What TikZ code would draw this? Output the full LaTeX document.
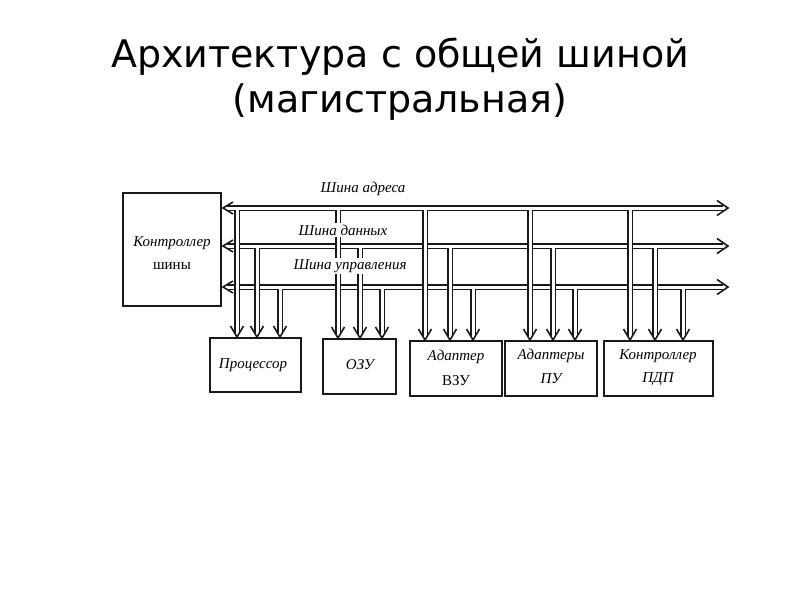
\documentclass[tikz,border=0pt]{standalone}
\usepackage{fontspec}
\setmainfont{Liberation Serif}
\newfontfamily\titlefont{DejaVu Sans}
\usetikzlibrary{calc}
\begin{document}
\begin{tikzpicture}[x=1pt,y=-1pt,
  ink/.style={draw=black!90},
  bus/.style={ink, double=white, double distance=3pt, line width=1.6pt},
  vee/.style={ink, line width=1.6pt, line join=miter, line cap=butt},
  unit/.style={ink, line width=1.7pt, inner sep=0pt},
  lbl/.style={font=\fontsize{15}{17}\selectfont\itshape, inner sep=0pt},
  up/.style={font=\fontsize{15}{17}\selectfont},
  buslbl/.style={lbl, fill=white, inner sep=1.5pt},
  ttl/.style={font=\titlefont\fontsize{38}{44}\selectfont, inner sep=0pt, anchor=base}]
\useasboundingbox (0,0) rectangle (800,600);
\fill[white] (0,0) rectangle (800,600);

% title
\node[ttl] (t1) at (400,67) {Архитектура с общей шиной};
\node[ttl] (t2) at (400,112) {(магистральная)};

% bus controller
\draw[unit] (123,193) rectangle (221,306);
\node[lbl] (ctl) at (172,243) {Контроллер};
\node[up, inner sep=0pt] (ctl2) at (172,266) {шины};

% units
\draw[unit] (210,338) rectangle (301,392);
\draw[unit] (323,339) rectangle (396,394);
\draw[unit] (410,341) rectangle (502,396);
\draw[unit] (505,341) rectangle (597,396);
\draw[unit] (604,341) rectangle (713,396);
\coordinate (procN) at (0,337);
\coordinate (ramN) at (0,338);
\coordinate (vzuN) at (0,340);
\coordinate (puN) at (0,340);
\coordinate (pdpN) at (0,340);

\node[lbl] (proc) at (253,365) {Процессор};
\node[lbl] (ram) at (360,365) {ОЗУ};
\node[lbl] (vzu1) at (456,357) {Адаптер};
\node[up, inner sep=0pt] (vzu2) at (456,381) {ВЗУ};
\node[lbl] (pu1) at (551,356) {Адаптеры};
\node[lbl] (pu2) at (551,379) {ПУ};
\node[lbl] (pdp1) at (658,356) {Контроллер};
\node[lbl] (pdp2) at (658,379) {ПДП};

% buses
\coordinate (A) at (223,208);
\coordinate (D) at (223,246);
\coordinate (C) at (223,287);
\coordinate (Ae) at (728,208);
\coordinate (De) at (728,246);
\coordinate (Ce) at (728,287);
\foreach \s/\e in {A/Ae,D/De,C/Ce}{
  \draw[bus, shorten <=4pt, shorten >=5pt] (\s) -- (\e);
  \draw[vee] ($(\s)+(10,-6)$) -- (\s) -- ($(\s)+(10,6)$);
  \draw[vee] ($(\e)+(-11,-7.5)$) -- (\e) -- ($(\e)+(-11,7.5)$);
}

% taps
\foreach \x/\b/\t in {237/A/procN,257/D/procN,280/C/procN,
                      338/A/ramN,360/D/ramN,382/C/ramN,
                      425/A/vzuN,450/D/vzuN,473/C/vzuN,
                      530/A/puN,553/D/puN,575/C/puN,
                      630/A/pdpN,655/D/pdpN,683/C/pdpN}{
  \draw[bus, shorten >=4pt] (\x,0 |- \b) -- (\x,0 |- \t);
  \draw[vee] ($(\x,0 |- \t)+(-6.5,-11)$) -- (\x,0 |- \t) -- ($(\x,0 |- \t)+(6.5,-11)$);
  \fill[white] ($(\x,0 |- \b)+(-3.4,-1.5)$) rectangle ($(\x,0 |- \b)+(3.4,1.5)$);
}

\node[buslbl] (la) at (363,189) {Шина адреса};
\node[buslbl] (ld) at (343,230) {Шина данных};
\node[buslbl] (lc) at (350,266) {Шина управления};
\end{tikzpicture}
\end{document}
